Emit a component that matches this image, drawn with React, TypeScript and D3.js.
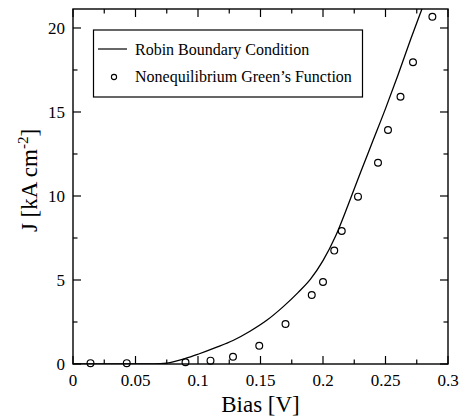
import React from "react";
import * as d3 from "d3";

const curveBias = [0, 0.065, 0.075, 0.09, 0.1, 0.115, 0.128, 0.1416, 0.155, 0.168, 0.18, 0.19, 0.2, 0.21, 0.22, 0.23, 0.24, 0.25, 0.26, 0.27, 0.279, 0.286];
const curveJ = [0, 0, 0.05, 0.33, 0.58, 1.0, 1.4, 1.95, 2.6, 3.4, 4.25, 5.05, 6.15, 7.6, 9.45, 11.4, 13.3, 15.2, 17.2, 19.3, 21.1, 22.5];

const negfBias = [0.014, 0.043, 0.09, 0.11, 0.128, 0.149, 0.17, 0.191, 0.2, 0.209, 0.215, 0.228, 0.244, 0.252, 0.262, 0.272, 0.2875];
const negfJ = [0.05, 0.05, 0.1, 0.2, 0.43, 1.09, 2.38, 4.11, 4.88, 6.75, 7.92, 9.96, 11.98, 13.93, 15.91, 17.96, 20.67];

const xMajor = [0, 0.05, 0.1, 0.15, 0.2, 0.25, 0.3];
const xMajorLabels = ["0", "0.05", "0.1", "0.15", "0.2", "0.25", "0.3"];
const xMinor = [0.025, 0.075, 0.125, 0.175, 0.225, 0.275];
const yMajor = [0, 5, 10, 15, 20];
const yMinor = [2.5, 7.5, 12.5, 17.5];

const legendLabels = ["Robin Boundary Condition", "Nonequilibrium Green\u2019s Function"];

const W = 464, H = 418;
const L = 73, R = 448, T = 9, B = 364;
const FONT = '"Liberation Serif", "Times New Roman", Times, "DejaVu Serif", serif';
const ts = { fontFamily: FONT };

export default function App() {
  const x = d3.scaleLinear().domain([0, 0.3]).range([L, R]);
  const y = d3.scaleLinear().domain([0, 21.13]).range([B, T]);
  const pts = curveBias.map((b, i) => [b, curveJ[i]] as [number, number]);
  const line = d3.line<[number, number]>().x(d => x(d[0])).y(d => y(d[1])).curve(d3.curveMonotoneX);
  const major = 8, minor = 4.5;
  return (
    <svg width={W} height={H} style={{ position: "absolute", left: 0, top: 0, background: "#fff", fontFamily: FONT }}>
      <defs>
        <clipPath id="plotclip"><rect x={L} y={T} width={R - L} height={B - T} /></clipPath>
      </defs>
      <path d={line(pts) || ""} fill="none" stroke="#000" strokeWidth={1.3} clipPath="url(#plotclip)" />
      {negfBias.map((b, i) => (
        <circle key={i} cx={x(b)} cy={y(negfJ[i])} r={3.4} fill="none" stroke="#000" strokeWidth={1.2} />
      ))}
      <rect x={L} y={T} width={R - L} height={B - T} fill="none" stroke="#000" strokeWidth={1.4} />
      {xMajor.map((v, i) => (
        <g key={"xm" + i}>
          <line x1={x(v)} x2={x(v)} y1={B} y2={B - major} stroke="#000" strokeWidth={1.2} />
          <line x1={x(v)} x2={x(v)} y1={T} y2={T + major} stroke="#000" strokeWidth={1.2} />
          <text x={x(v)} y={386} textAnchor="middle" fontSize={17} style={ts}>{xMajorLabels[i]}</text>
        </g>
      ))}
      {xMinor.map((v, i) => (
        <g key={"xn" + i}>
          <line x1={x(v)} x2={x(v)} y1={B} y2={B - minor} stroke="#000" strokeWidth={1.2} />
          <line x1={x(v)} x2={x(v)} y1={T} y2={T + minor} stroke="#000" strokeWidth={1.2} />
        </g>
      ))}
      {yMajor.map((v, i) => (
        <g key={"ym" + i}>
          <line x1={L} x2={L + major} y1={y(v)} y2={y(v)} stroke="#000" strokeWidth={1.2} />
          <line x1={R} x2={R - major} y1={y(v)} y2={y(v)} stroke="#000" strokeWidth={1.2} />
          <text x={65} y={y(v) + 6} textAnchor="end" fontSize={17} style={ts}>{String(v)}</text>
        </g>
      ))}
      {yMinor.map((v, i) => (
        <g key={"yn" + i}>
          <line x1={L} x2={L + minor} y1={y(v)} y2={y(v)} stroke="#000" strokeWidth={1.2} />
          <line x1={R} x2={R - minor} y1={y(v)} y2={y(v)} stroke="#000" strokeWidth={1.2} />
        </g>
      ))}
      <text x={(L + R) / 2} y={412} textAnchor="middle" fontSize={23} style={ts}>Bias [V]</text>
      <text transform={`translate(37,${(T + B) / 2 - 6}) rotate(-90)`} textAnchor="middle" fontSize={23} style={ts}>
        J [kA cm<tspan fontSize={15} dy={-9}>-2</tspan><tspan dy={9}>]</tspan>
      </text>
      <rect x={93.5} y={30} width={269} height={67} fill="#fff" stroke="#000" strokeWidth={1.2} />
      <line x1={98} x2={127} y1={49} y2={49} stroke="#000" strokeWidth={1.2} />
      <text x={135} y={54.5} fontSize={16} style={ts}>{legendLabels[0]}</text>
      <circle cx={114} cy={77} r={2.6} fill="none" stroke="#000" strokeWidth={1.1} />
      <text x={135} y={82} fontSize={16} style={ts}>{legendLabels[1]}</text>
    </svg>
  );
}
